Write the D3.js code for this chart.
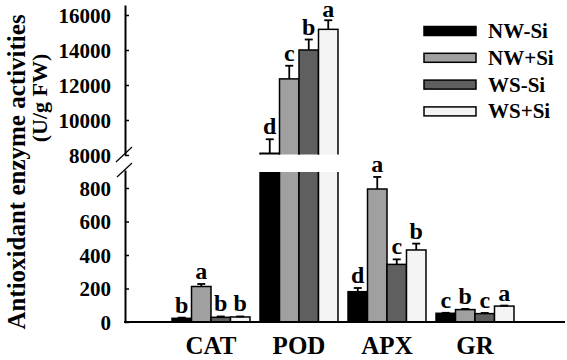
<!DOCTYPE html>
<html>
<head>
<meta charset="utf-8">
<script src="https://cdn.jsdelivr.net/npm/d3@7"></script>
<style>
  html, body { margin: 0; padding: 0; background: #fff; }
  svg { display: block; }
  text { font-family: "Liberation Serif", "Times New Roman", serif; font-weight: bold; fill: #000; }
</style>
</head>
<body>
<svg id="chart" width="567" height="360"></svg>
<script>
// ---- data ----
const categories = ["CAT", "POD", "APX", "GR"];
const seriesNames = ["NW-Si", "NW+Si", "WS-Si", "WS+Si"];
const seriesColors = ["#000000", "#a0a0a0", "#5f5f5f", "#f4f4f4"];
const nwMinusSi = [22, 8100, 181, 52];
const nwPlusSi  = [212, 12350, 794, 74];
const wsMinusSi = [28, 14000, 344, 50];
const wsPlusSi  = [30, 15180, 430, 95];
const nwMinusSiErr = [4, 800, 22, 3];
const nwPlusSiErr  = [15, 750, 72, 4];
const wsMinusSiErr = [5, 600, 30, 4];
const wsPlusSiErr  = [3, 520, 38, 3];
const nwMinusSiLetters = ["b", "d", "d", "c"];
const nwPlusSiLetters  = ["a", "c", "a", "b"];
const wsMinusSiLetters = ["b", "b", "c", "c"];
const wsPlusSiLetters  = ["b", "a", "b", "a"];
const lowerTicks = [0, 200, 400, 600, 800];
const upperTicks = [8000, 10000, 12000, 14000, 16000];

const values = [nwMinusSi, nwPlusSi, wsMinusSi, wsPlusSi];
const errs = [nwMinusSiErr, nwPlusSiErr, wsMinusSiErr, wsPlusSiErr];
const letters = [nwMinusSiLetters, nwPlusSiLetters, wsMinusSiLetters, wsPlusSiLetters];

// ---- layout ----
const svg = d3.select("#chart");
const axisX = 125, baseY = 322, xEnd = 565;
const lowerTop = 170, upperBottom = 155, upperTop = 5;

const x0 = d3.scaleBand().domain(categories).range([167, 519]).paddingInner(0.114).paddingOuter(0.057);
const x1 = d3.scaleBand().domain(seriesNames).range([0, x0.bandwidth()]);

const yLow = d3.scaleLinear().domain([0, 800]).range([baseY, 188]);
const lowMax = yLow.invert(lowerTop);
const yUp = d3.scaleLinear().domain([8000, 16000]).range([upperBottom, 15]);
const upMax = yUp.invert(upperTop);

const defs = svg.append("defs");
defs.append("clipPath").attr("id", "clipLow").append("rect")
  .attr("x", 0).attr("y", 172).attr("width", 567).attr("height", baseY - 172 + 2);
defs.append("clipPath").attr("id", "clipUp").append("rect")
  .attr("x", 0).attr("y", 0).attr("width", 567).attr("height", 154.5);

const rows = [];
categories.forEach((c, ci) => {
  seriesNames.forEach((s, si) => {
    rows.push({ cat: c, ser: s, si, v: values[si][ci], e: errs[si][ci], l: letters[si][ci] });
  });
});

const bx = d => x0(d.cat) + x1(d.ser);
const bw = x1.bandwidth();

// lower panel bars
const gLow = svg.append("g").attr("clip-path", "url(#clipLow)");
gLow.selectAll("rect").data(rows).join("rect")
  .attr("x", bx).attr("width", bw)
  .attr("y", d => yLow(Math.min(d.v, lowMax + 50)))
  .attr("height", d => baseY - yLow(Math.min(d.v, lowMax + 50)))
  .attr("fill", d => seriesColors[d.si])
  .attr("stroke", "#000").attr("stroke-width", 1.5);

// upper panel bars
const upRows = rows.filter(d => d.v > lowMax);
const gUp = svg.append("g").attr("clip-path", "url(#clipUp)");
gUp.selectAll("rect").data(upRows).join("rect")
  .attr("x", bx).attr("width", bw)
  .attr("y", d => yUp(d.v))
  .attr("height", d => yUp(7800) - yUp(d.v))
  .attr("fill", d => seriesColors[d.si])
  .attr("stroke", "#000").attr("stroke-width", 1.5);

// error bars + letters
const yOf = d => d.v > lowMax ? yUp : yLow;
const gErr = svg.append("g").attr("stroke", "#000").attr("stroke-width", 1.8);
rows.forEach(d => {
  const y = yOf(d);
  const cx = bx(d) + bw / 2;
  gErr.append("line").attr("x1", cx).attr("x2", cx).attr("y1", y(d.v)).attr("y2", y(d.v + d.e));
  gErr.append("line").attr("x1", cx - 4).attr("x2", cx + 4).attr("y1", y(d.v + d.e)).attr("y2", y(d.v + d.e));
});
svg.append("g").selectAll("text").data(rows).join("text")
  .attr("x", d => bx(d) + bw / 2)
  .attr("y", d => Math.max(yOf(d)(d.v + d.e) - 5, 17))
  .attr("text-anchor", "middle")
  .attr("font-size", 24)
  .text(d => d.l);

// axes
const axLow = d3.axisLeft(yLow.copy().domain([0, lowMax]).range([baseY, lowerTop]))
  .tickValues(lowerTicks).tickSizeInner(-4).tickSizeOuter(0).tickPadding(14).tickFormat(d3.format("d"));
const axUp = d3.axisLeft(yUp.copy().domain([8000, upMax]).range([upperBottom, upperTop]))
  .tickValues(upperTicks).tickSizeInner(-4).tickSizeOuter(0).tickPadding(14).tickFormat(d3.format("d"));
[axLow, axUp].forEach(ax => {
  const g = svg.append("g").attr("transform", `translate(${axisX},0)`).call(ax);
  g.select(".domain").attr("stroke-width", 2);
  g.selectAll(".tick line").attr("stroke-width", 1.5);
  g.selectAll("text").attr("font-size", 21).attr("font-family", null).attr("dy", "0.35em");
});

// break marks
svg.append("line").attr("x1", 116).attr("y1", 162).attr("x2", 132).attr("y2", 147).attr("stroke", "#000").attr("stroke-width", 1.2);
svg.append("line").attr("x1", 117).attr("y1", 177).attr("x2", 132).attr("y2", 163).attr("stroke", "#000").attr("stroke-width", 1.2);

// x axis
svg.append("line").attr("x1", axisX - 1).attr("x2", xEnd).attr("y1", baseY).attr("y2", baseY)
  .attr("stroke", "#000").attr("stroke-width", 2);
const gx = svg.append("g").attr("transform", `translate(0,${baseY})`)
  .call(d3.axisBottom(x0).tickSize(0));
gx.select(".domain").remove();
gx.selectAll("text").attr("font-size", 25).attr("font-family", null).attr("y", 32).attr("dy", null);

// y title
svg.append("text").attr("transform", "translate(25,172) rotate(-90)")
  .attr("text-anchor", "middle").attr("font-size", 25)
  .text("Antioxidant enzyme activities");
svg.append("text").attr("transform", "translate(47,98) rotate(-90)")
  .attr("text-anchor", "middle").attr("font-size", 22)
  .text("(U/g FW)");

// legend
const lg = svg.append("g").selectAll("g").data(seriesNames).join("g")
  .attr("transform", (d, i) => `translate(424,${31 + i * 26.8})`);
lg.append("rect").attr("x", 0).attr("y", -4.5).attr("width", 52).attr("height", 9)
  .attr("fill", (d, i) => seriesColors[i]).attr("stroke", "#000").attr("stroke-width", 1.5);
lg.append("text").attr("x", 64).attr("y", 7).attr("font-size", 21).text(d => d);
</script>
</body>
</html>
